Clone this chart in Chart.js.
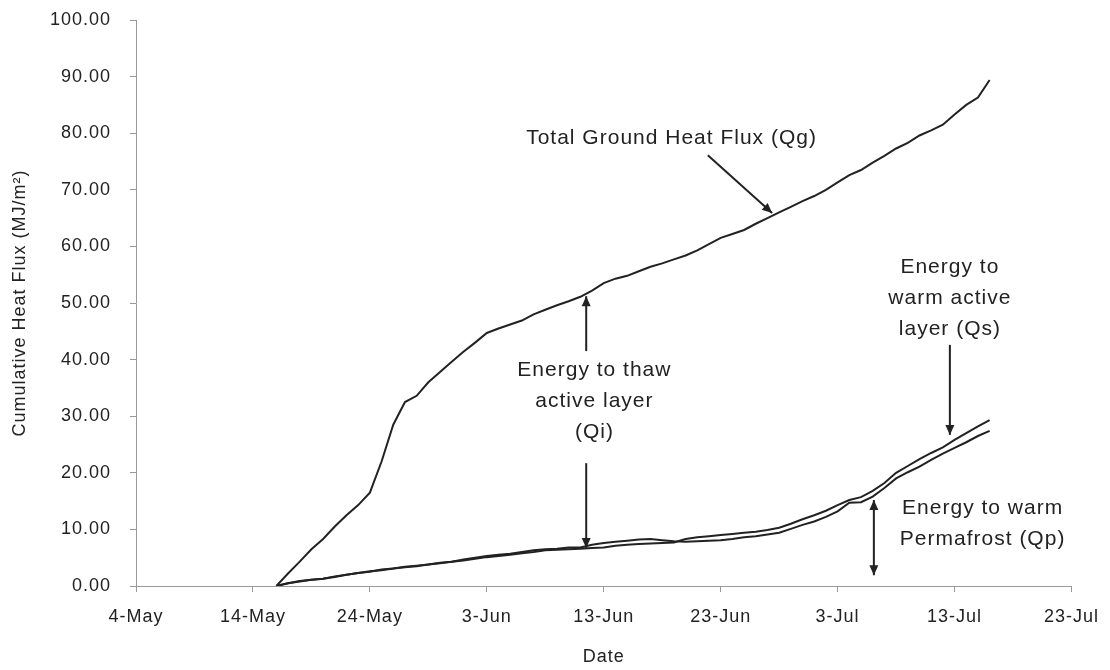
<!DOCTYPE html>
<html>
<head>
<meta charset="utf-8">
<script src="https://cdn.jsdelivr.net/npm/chart.js@4.4.0/dist/chart.umd.min.js"></script>
<style>
  body { margin: 0; background: #fff; }
  #wrap { width: 1110px; height: 670px; }
</style>
</head>
<body>
<div id="wrap"><canvas id="flux-chart" width="1110" height="670"></canvas></div>
<script>
// day number counted from 4-May
let days = [12, 13, 14, 15, 16, 17, 18, 19, 20, 21, 22, 23, 24, 25, 26, 27, 28, 29, 30, 31, 32,
    33, 34, 35, 36, 37, 38, 39, 40, 41, 42, 43, 44, 45, 46, 47, 48, 49, 50, 51, 52, 53, 54,
    55, 56, 57, 58, 59, 60, 61, 62, 63, 64, 65, 66, 67, 68, 69, 70, 71, 72, 73];

let qg = [0, 2.2, 4.3, 6.5, 8.3, 10.5, 12.5, 14.3, 16.5, 22, 28.5, 32.5, 33.6, 36, 37.8, 39.6, 41.4,
    43, 44.7, 45.5, 46.2, 46.9, 48, 48.8, 49.6, 50.3, 51.1, 52.2, 53.5, 54.3, 54.8, 55.6, 56.4,
    57, 57.7, 58.4, 59.3, 60.4, 61.5, 62.2, 62.9, 64, 65, 66, 67, 68, 68.9, 70, 71.3, 72.6,
    73.5, 74.8, 76, 77.3, 78.3, 79.6, 80.5, 81.5, 83.3, 85, 86.3, 89.4];

let qsLine = [0, 0.5, 0.9, 1.1, 1.3, 1.7, 2.0, 2.3, 2.6, 2.8, 3.1, 3.3, 3.5, 3.8, 4.0, 4.3, 4.5,
    4.8, 5.1, 5.3, 5.5, 5.8, 6.0, 6.3, 6.4, 6.5, 6.6, 6.7, 6.8, 7.1, 7.3, 7.4, 7.5, 7.6, 7.7,
    8.3, 8.6, 8.8, 9.0, 9.2, 9.4, 9.6, 9.9, 10.3, 11.0, 11.8, 12.5, 13.3, 14.3, 15.2, 15.7,
    16.8, 18.2, 20.0, 21.2, 22.4, 23.5, 24.5, 25.8, 27.0, 28.2, 29.3];

let qpLine = [0, 0.5, 0.8, 1.1, 1.3, 1.6, 2.0, 2.3, 2.5, 2.9, 3.1, 3.4, 3.6, 3.8, 4.1, 4.3, 4.7,
    5.0, 5.3, 5.5, 5.7, 6.0, 6.3, 6.5, 6.6, 6.8, 6.8, 7.3, 7.6, 7.8, 8.0, 8.2, 8.3, 8.1, 7.9,
    7.8, 7.9, 8.0, 8.1, 8.3, 8.6, 8.8, 9.1, 9.4, 10.1, 10.8, 11.4, 12.2, 13.2, 14.7, 14.8,
    15.8, 17.3, 19.0, 20.1, 21.1, 22.3, 23.4, 24.4, 25.4, 26.5, 27.4];

let tickDays = [0, 10, 20, 30, 40, 50, 60, 70, 80];
let tickLabels = ["4-May", "14-May", "24-May", "3-Jun", "13-Jun", "23-Jun", "3-Jul", "13-Jul", "23-Jul"];

// text notes and arrows, in data units (day, flux)
let notes = [
    { lines: ["Total Ground Heat Flux (Qg)"], at: [45.8, 79.2] },
    { lines: ["Energy to thaw", "active layer", "(Qi)"], at: [39.2, 38.2] },
    { lines: ["Energy to", "warm active", "layer (Qs)"], at: [69.6, 56.4] },
    { lines: ["Energy to warm", "Permafrost (Qp)"], at: [72.4, 13.8] }
];
let arrows = [
    { from: [48.9, 76.1], to: [54.4, 65.9] },
    { from: [38.5, 41.5], to: [38.5, 51.2] },
    { from: [38.5, 21.7], to: [38.5, 6.7] },
    { from: [69.6, 42.6], to: [69.6, 26.7] },
    { from: [63.1, 1.9], to: [63.1, 15.2], both: true }
];

const FONT = 'Arial, "Liberation Sans", sans-serif';
const INK = '#222';

function toPoints(vals) {
    return days.map((d, i) => ({ x: d, y: vals[i] }));
}

function arrowHead(ctx, x1, y1, x2, y2) {
    let a = Math.atan2(y2 - y1, x2 - x1);
    let len = 10, w = 4.5;
    ctx.beginPath();
    ctx.moveTo(x2, y2);
    ctx.lineTo(x2 - len * Math.cos(a) + w * Math.sin(a), y2 - len * Math.sin(a) - w * Math.cos(a));
    ctx.lineTo(x2 - len * Math.cos(a) - w * Math.sin(a), y2 - len * Math.sin(a) + w * Math.cos(a));
    ctx.closePath();
    ctx.fill();
}

let spacing = {
    id: 'spacing',
    beforeDraw(chart) {
        chart.ctx.letterSpacing = '1px';
    }
};

let notesPlugin = {
    id: 'notes',
    afterDatasetsDraw(chart) {
        let ctx = chart.ctx;
        let xs = chart.scales.x, ys = chart.scales.y;
        ctx.save();
        ctx.letterSpacing = '1px';
        ctx.fillStyle = INK;
        ctx.strokeStyle = INK;
        ctx.font = '21px ' + FONT;
        ctx.textAlign = 'center';
        ctx.textBaseline = 'middle';
        notes.forEach(n => {
            let px = xs.getPixelForValue(n.at[0]);
            let py = ys.getPixelForValue(n.at[1]);
            n.lines.forEach((t, i) => ctx.fillText(t, px, py + i * 31));
        });
        ctx.lineWidth = 2;
        arrows.forEach(a => {
            let x1 = xs.getPixelForValue(a.from[0]), y1 = ys.getPixelForValue(a.from[1]);
            let x2 = xs.getPixelForValue(a.to[0]), y2 = ys.getPixelForValue(a.to[1]);
            ctx.beginPath();
            ctx.moveTo(x1, y1);
            ctx.lineTo(x2, y2);
            ctx.stroke();
            arrowHead(ctx, x1, y1, x2, y2);
            if (a.both) arrowHead(ctx, x2, y2, x1, y1);
        });
        ctx.restore();
    }
};

let ctx = document.getElementById('flux-chart').getContext('2d');

let chart = new Chart(ctx, {
    type: 'line',
    data: {
        datasets: [
            { label: 'Qg', data: toPoints(qg), borderColor: INK, borderWidth: 2 },
            { label: 'Qs', data: toPoints(qsLine), borderColor: INK, borderWidth: 2 },
            { label: 'Qp', data: toPoints(qpLine), borderColor: INK, borderWidth: 2 }
        ]
    },
    options: {
        responsive: false,
        animation: false,
        layout: { padding: { top: 20, right: 38, left: 0, bottom: 0 } },
        elements: {
            point: { radius: 0 },
            line: { tension: 0 }
        },
        plugins: {
            legend: { display: false },
            tooltip: { enabled: false }
        },
        scales: {
            x: {
                type: 'linear',
                min: 0,
                max: 80,
                afterFit(scale) { scale.height = 84; },
                grid: { drawOnChartArea: false, tickLength: 6, color: '#999' },
                border: { color: '#999', width: 1 },
                ticks: {
                    stepSize: 10,
                    color: INK,
                    padding: 14,
                    maxRotation: 0,
                    font: { family: FONT, size: 18 },
                    callback: (v) => tickLabels[tickDays.indexOf(v)]
                },
                title: {
                    display: true,
                    text: 'Date',
                    color: INK,
                    font: { family: FONT, size: 18 },
                    padding: { top: 0, bottom: 2 }
                }
            },
            y: {
                min: 0,
                max: 100,
                afterFit(scale) {
                    scale.width = 136;
                    scale.paddingTop = 0;
                    scale.paddingBottom = 0;
                },
                grid: { drawOnChartArea: false, tickLength: 6, color: '#999' },
                border: { color: '#999', width: 1 },
                ticks: {
                    stepSize: 10,
                    color: INK,
                    padding: 19,
                    font: { family: FONT, size: 18 },
                    callback: (v) => v.toFixed(2)
                },
                title: {
                    display: true,
                    text: 'Cumulative Heat Flux (MJ/m²)',
                    color: INK,
                    font: { family: FONT, size: 18 },
                    padding: { top: 9, bottom: 0 }
                }
            }
        }
    },
    plugins: [spacing, notesPlugin]
});
</script>
</body>
</html>
